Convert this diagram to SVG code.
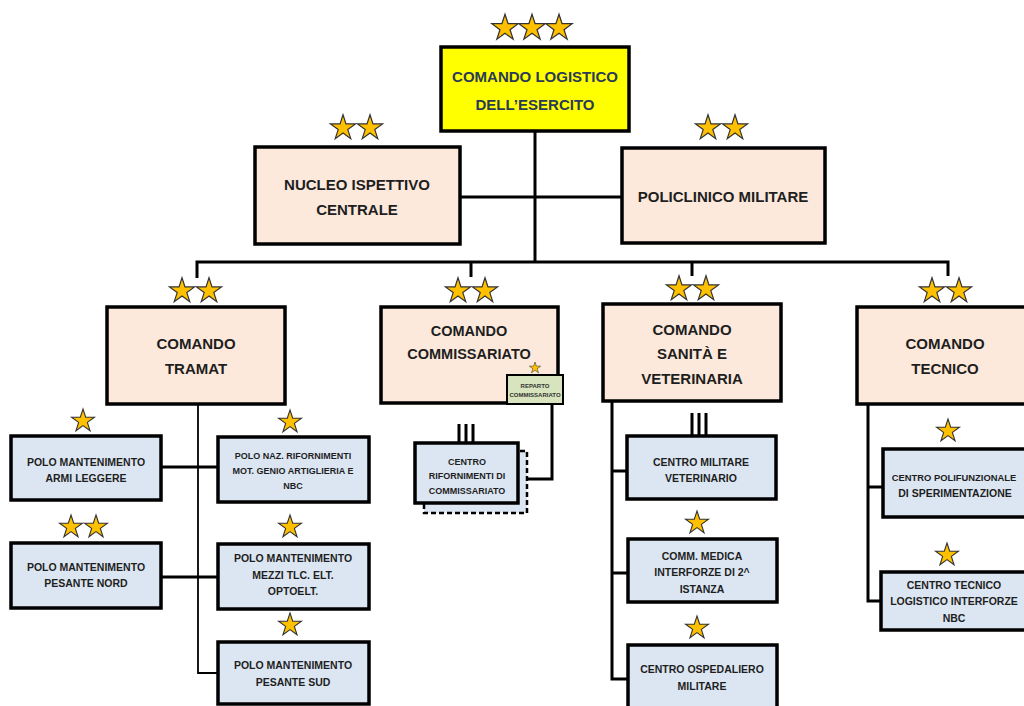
<svg xmlns="http://www.w3.org/2000/svg" xmlns:xlink="http://www.w3.org/1999/xlink" width="1024" height="706" viewBox="0 0 1024 706">
<style>
  text { font-family: "Liberation Sans", Arial, sans-serif; font-weight: bold; text-anchor: middle; fill: #1e1e1e; }
  .top { fill: #ffff00; stroke: #000; stroke-width: 3.5; }
  .l1 { fill: #fce9db; stroke: #000; stroke-width: 3.5; }
  .l3 { fill: #dce6f2; stroke: #000; stroke-width: 3.5; }
  .rep { fill: #d7e4bd; stroke: #000; stroke-width: 2; }
  .shadow { fill: #dce6f2; stroke: #000; stroke-width: 2.5; stroke-dasharray: 5 3; }
  .t15 { font-size: 15px; }
  .t14 { font-size: 14.5px; }
  .t10 { font-size: 10.5px; }
  .t95 { font-size: 9.4px; }
  .t9 { font-size: 9px; }
  .t6 { font-size: 6px; fill: #333; }
  .navy { fill: #2b3a55; }
  .ln { fill: none; stroke: #000; stroke-width: 3; }
  .thin { fill: none; stroke: #000; stroke-width: 1.8; }
  .star { fill: #ffc000; stroke: #333; stroke-width: 1.1; stroke-linejoin: miter; }
</style>
<defs>
  <path id="star" class="star" d="M0,-12 L2.7,-3.71 L11.41,-3.71 L4.37,1.42 L7.05,9.71 L0,4.59 L-7.05,9.71 L-4.37,1.42 L-11.41,-3.71 L-2.7,-3.71 Z"/>
</defs>
<rect width="1024" height="706" fill="#ffffff"/>

<g id="connectors">
  <path class="ln" d="M535,132 V262"/>
  <path class="ln" d="M460,197 H622"/>
  <path class="ln" d="M197,278 V262 H948 V276"/>
  <path class="ln" d="M471,262 V277"/>
  <path class="ln" d="M692,262 V276"/>
  <path class="thin" d="M198,404 V673 H218"/>
  <path class="ln" d="M161,467 H218"/>
  <path class="ln" d="M161,577 H218"/>
  <path class="ln" d="M552,404 V479 H527"/>
  <path class="ln" d="M612,401 V679 H628"/>
  <path class="ln" d="M612,471 H627"/>
  <path class="ln" d="M612,573 H628"/>
  <path class="ln" d="M868,404 V601 H881"/>
  <path class="ln" d="M868,487 H883"/>
  <path class="ln" d="M459,424 V442 M466,424 V442 M473,424 V442"/>
  <path class="ln" d="M692,413 V436 M699,413 V436 M706,413 V436"/>
</g>

<g id="n-comando-logistico">
  <rect class="top" x="441" y="47" width="188" height="84"/>
  <text class="t15 navy" x="535" y="81.5">COMANDO LOGISTICO</text>
  <text class="t15 navy" x="535" y="109.5">DELL’ESERCITO</text>
  <use xlink:href="#star" transform="translate(505,28) scale(1.15)"/>
  <use xlink:href="#star" transform="translate(532,28) scale(1.15)"/>
  <use xlink:href="#star" transform="translate(559,28) scale(1.15)"/>
</g>

<g id="n-nucleo">
  <rect class="l1" x="255" y="147" width="205" height="97"/>
  <text class="t15" x="357" y="189.5">NUCLEO ISPETTIVO</text>
  <text class="t15" x="357" y="214.5">CENTRALE</text>
  <use xlink:href="#star" transform="translate(343,128) scale(1.1)"/>
  <use xlink:href="#star" transform="translate(370,128) scale(1.1)"/>
</g>

<g id="n-policlinico">
  <rect class="l1" x="622" y="148" width="203" height="95"/>
  <text class="t15" x="723" y="201.5">POLICLINICO MILITARE</text>
  <use xlink:href="#star" transform="translate(708,128) scale(1.1)"/>
  <use xlink:href="#star" transform="translate(735,128) scale(1.1)"/>
</g>

<g id="n-tramat">
  <rect class="l1" x="107" y="307" width="178" height="97"/>
  <text class="t15" x="196" y="348.5">COMANDO</text>
  <text class="t15" x="196" y="373.5">TRAMAT</text>
  <use xlink:href="#star" transform="translate(182,291) scale(1.1)"/>
  <use xlink:href="#star" transform="translate(209,291) scale(1.1)"/>
</g>

<g id="n-commissariato">
  <rect class="l1" x="381" y="307" width="177" height="96"/>
  <text class="t14" x="469" y="336">COMANDO</text>
  <text class="t14" x="469" y="359">COMMISSARIATO</text>
  <use xlink:href="#star" transform="translate(458,291) scale(1.1)"/>
  <use xlink:href="#star" transform="translate(485,291) scale(1.1)"/>
</g>

<g id="n-reparto">
  <rect class="rep" x="507" y="375" width="56" height="29"/>
  <text class="t6" x="535" y="388">REPARTO</text>
  <text class="t6" x="535" y="397">COMMISSARIATO</text>
  <use xlink:href="#star" transform="translate(535,368) scale(0.5)"/>
</g>

<g id="n-sanita">
  <rect class="l1" x="603" y="304" width="178" height="97"/>
  <text class="t15" x="692" y="334.5">COMANDO</text>
  <text class="t15" x="692" y="358.5">SANITÀ E</text>
  <text class="t15" x="692" y="383.5">VETERINARIA</text>
  <use xlink:href="#star" transform="translate(679,289) scale(1.1)"/>
  <use xlink:href="#star" transform="translate(706,289) scale(1.1)"/>
</g>

<g id="n-tecnico">
  <rect class="l1" x="857" y="307" width="177" height="97"/>
  <text class="t15" x="945" y="348.5">COMANDO</text>
  <text class="t15" x="945" y="373.5">TECNICO</text>
  <use xlink:href="#star" transform="translate(932,291) scale(1.1)"/>
  <use xlink:href="#star" transform="translate(959,291) scale(1.1)"/>
</g>

<g id="n-armi-leggere">
  <rect class="l3" x="11" y="436" width="150" height="64"/>
  <text class="t10" x="86" y="466">POLO MANTENIMENTO</text>
  <text class="t10" x="86" y="482">ARMI LEGGERE</text>
  <use xlink:href="#star" transform="translate(83,421)"/>
</g>

<g id="n-naz-rifornimenti">
  <rect class="l3" x="218" y="437" width="151" height="65"/>
  <text class="t9" x="293" y="459">POLO NAZ. RIFORNIMENTI</text>
  <text class="t9" x="293" y="474">MOT. GENIO ARTIGLIERIA E</text>
  <text class="t9" x="293" y="489">NBC</text>
  <use xlink:href="#star" transform="translate(290,422)"/>
</g>

<g id="n-pesante-nord">
  <rect class="l3" x="11" y="543" width="150" height="65"/>
  <text class="t10" x="86" y="571">POLO MANTENIMENTO</text>
  <text class="t10" x="86" y="587">PESANTE NORD</text>
  <use xlink:href="#star" transform="translate(71,527)"/>
  <use xlink:href="#star" transform="translate(96,527)"/>
</g>

<g id="n-mezzi-tlc">
  <rect class="l3" x="218" y="544" width="151" height="65"/>
  <text class="t10" x="293" y="562">POLO MANTENIMENTO</text>
  <text class="t10" x="293" y="579">MEZZI TLC. ELT.</text>
  <text class="t10" x="293" y="595">OPTOELT.</text>
  <use xlink:href="#star" transform="translate(290,527)"/>
</g>

<g id="n-pesante-sud">
  <rect class="l3" x="218" y="642" width="151" height="62"/>
  <text class="t10" x="293" y="669">POLO MANTENIMENTO</text>
  <text class="t10" x="293" y="686">PESANTE SUD</text>
  <use xlink:href="#star" transform="translate(290,625)"/>
</g>

<g id="n-centro-rifornimenti">
  <rect class="shadow" x="424" y="451" width="103" height="62"/>
  <rect class="l3" x="415" y="443" width="103" height="60"/>
  <text class="t9" x="467" y="465">CENTRO</text>
  <text class="t9" x="467" y="479">RIFORNIMENTI DI</text>
  <text class="t9" x="467" y="494">COMMISSARIATO</text>
</g>

<g id="n-militare-veterinario">
  <rect class="l3" x="627" y="436" width="149" height="63"/>
  <text class="t10" x="701" y="466">CENTRO MILITARE</text>
  <text class="t10" x="701" y="482">VETERINARIO</text>
</g>

<g id="n-comm-medica">
  <rect class="l3" x="628" y="539" width="149" height="63"/>
  <text class="t10" x="702" y="560">COMM. MEDICA</text>
  <text class="t10" x="702" y="576">INTERFORZE DI 2^</text>
  <text class="t10" x="702" y="593">ISTANZA</text>
  <use xlink:href="#star" transform="translate(697,523)"/>
</g>

<g id="n-ospedaliero">
  <rect class="l3" x="628" y="645" width="149" height="75"/>
  <text class="t10" x="702" y="673">CENTRO OSPEDALIERO</text>
  <text class="t10" x="702" y="690">MILITARE</text>
  <use xlink:href="#star" transform="translate(697,628)"/>
</g>

<g id="n-polifunzionale">
  <rect class="l3" x="883" y="449" width="152" height="68"/>
  <text class="t95" x="954" y="481">CENTRO POLIFUNZIONALE</text>
  <text class="t10" x="955" y="497">DI SPERIMENTAZIONE</text>
  <use xlink:href="#star" transform="translate(948,431)"/>
</g>

<g id="n-tecnico-logistico">
  <rect class="l3" x="881" y="572" width="152" height="58"/>
  <text class="t10" x="954" y="589">CENTRO TECNICO</text>
  <text class="t10" x="954" y="605">LOGISTICO INTERFORZE</text>
  <text class="t10" x="954" y="622">NBC</text>
  <use xlink:href="#star" transform="translate(947,555)"/>
</g>
</svg>
